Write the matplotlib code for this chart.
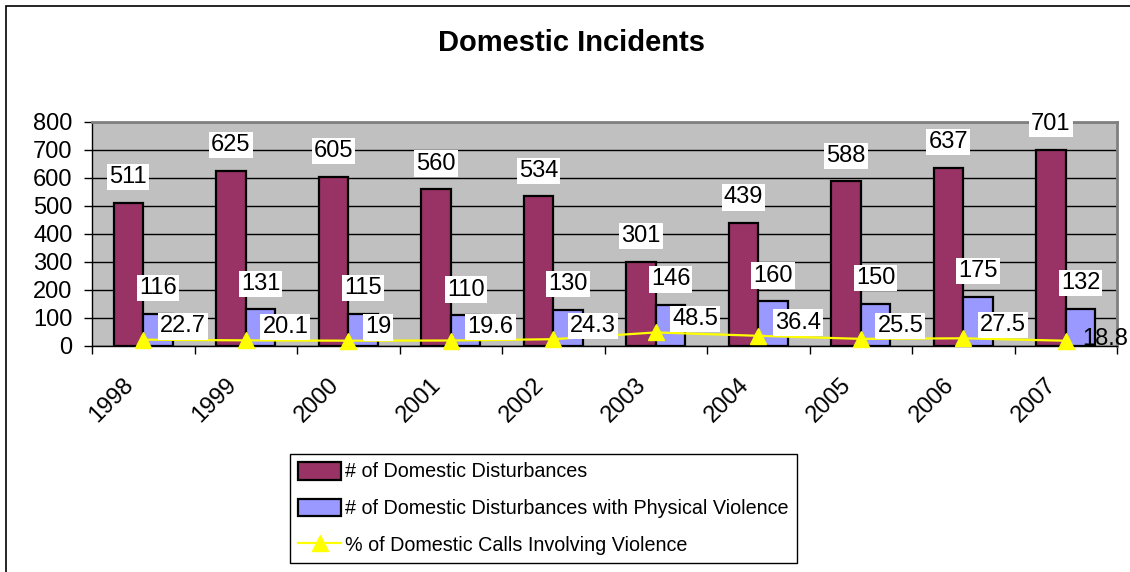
import numpy as np
import matplotlib
matplotlib.use("Agg")
import matplotlib.pyplot as plt
from matplotlib.patches import Rectangle
from matplotlib.transforms import ScaledTranslation

plt.rcParams['font.family'] = ['Liberation Sans', 'DejaVu Sans']

years = ['1998', '1999', '2000', '2001', '2002', '2003', '2004', '2005', '2006', '2007']
disturbances = [511, 625, 605, 560, 534, 301, 439, 588, 637, 701]
violent = [116, 131, 115, 110, 130, 146, 160, 150, 175, 132]
pct_violent = [22.7, 20.1, 19, 19.6, 24.3, 48.5, 36.4, 25.5, 27.5, 18.8]

maroon = '#993366'
lilac = '#9999FF'
yellow = '#FFFF00'
fs = 17

fig = plt.figure(figsize=(11.3, 5.72), dpi=100)
ax = fig.add_axes([92/1130, 1-346/572, (1117-92)/1130, (346-122)/572])
ax.set_facecolor('#C0C0C0')

x = np.arange(len(years))
w = 0.29
b1 = ax.bar(x - w/2, disturbances, w, color=maroon, edgecolor='black', linewidth=1.6,
            label='# of Domestic Disturbances', zorder=2)
b2 = ax.bar(x + w/2, violent, w, color=lilac, edgecolor='black', linewidth=1.6,
            label='# of Domestic Disturbances with Physical Violence', zorder=2)
ln, = ax.plot(x, pct_violent, color=yellow, linewidth=1.6, marker='^', markersize=11,
              markeredgecolor=yellow, label='% of Domestic Calls Involving Violence',
              zorder=3, clip_on=False)

box = dict(facecolor='white', edgecolor='none', pad=1.5)
for xi, v in zip(x, disturbances):
    ax.annotate(str(v), (xi - w/2, v), xytext=(0, 18.5), textcoords='offset points',
                ha='center', va='center', fontsize=fs, bbox=box, zorder=5)
for xi, v in zip(x, violent):
    ax.annotate(str(v), (xi + w/2, v), xytext=(0, 18.5), textcoords='offset points',
                ha='center', va='center', fontsize=fs, bbox=box, zorder=5)
for i, (xi, v) in enumerate(zip(x, pct_violent)):
    last = i == len(x) - 1
    ax.annotate(f'{v:g}', (xi, v), xytext=(12, 1 if last else 9.5),
                textcoords='offset points', ha='left', va='center', fontsize=fs,
                bbox=None if last else box, zorder=5, annotation_clip=False)

ax.set_xlim(-0.5, len(years) - 0.5)
ax.set_ylim(0, 800)
ax.set_yticks(range(0, 801, 100))
ax.yaxis.grid(True, color='black', linewidth=1)
ax.set_axisbelow(True)

# year labels sit between boundary ticks
ax.set_xticks(x)
ax.set_xticklabels(years, rotation=45, ha='right', va='top')
ax.set_xticks(np.arange(-0.5, len(years), 1), minor=True)
ax.tick_params(axis='x', which='major', length=0, pad=20, labelsize=fs)
ax.tick_params(axis='x', which='minor', length=6, width=1, color='black')
ax.tick_params(axis='y', length=6, width=1, pad=8, labelsize=fs)
for lab in ax.get_xticklabels():
    lab.set_transform(lab.get_transform() + ScaledTranslation(-0.05, 0, fig.dpi_scale_trans))

for s in ['top', 'right']:
    ax.spines[s].set_color('#808080')
    ax.spines[s].set_linewidth(2)
for s in ['left', 'bottom']:
    ax.spines[s].set_color('black')
    ax.spines[s].set_linewidth(1)

fig.text(571/1130, 1-43/572, 'Domestic Incidents', ha='center', va='center',
         fontsize=21, fontweight='bold')

leg = fig.legend(handles=[b1, b2, ln], loc='upper left',
                 bbox_to_anchor=(290/1130, 1-454/572), fontsize=14.2,
                 fancybox=False, edgecolor='black', framealpha=1,
                 handlelength=2.2, handleheight=1.0, handletextpad=0.2,
                 labelspacing=0.87, borderpad=0.4, borderaxespad=0)
leg.get_frame().set_linewidth(1)

fig.add_artist(Rectangle((6/1130, -0.1), 1.1, 1 - 6/572 + 0.1, transform=fig.transFigure,
                         fill=False, edgecolor='black', linewidth=1.2))

fig.savefig('out.png', dpi=100)
